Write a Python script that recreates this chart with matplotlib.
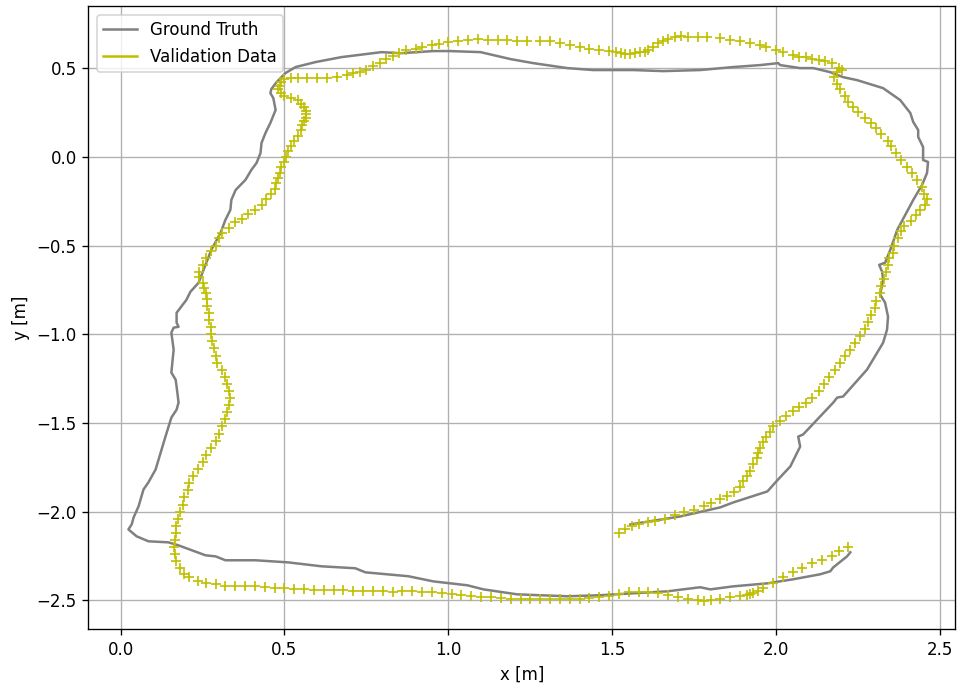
import matplotlib
matplotlib.use('Agg')
import matplotlib.pyplot as plt
from matplotlib.lines import Line2D

# ground truth trajectory [m]
gt_x = [1.555, 1.707, 1.829, 1.869, 1.973, 2.006, 2.043, 2.073, 2.067, 2.082, 2.174, 2.186, 2.204,
        2.277, 2.326, 2.338, 2.341, 2.332, 2.317, 2.326, 2.323, 2.314, 2.332, 2.348, 2.369, 2.418,
        2.445, 2.460, 2.463, 2.448, 2.448, 2.433, 2.433, 2.418, 2.409, 2.378, 2.326, 2.247, 2.204,
        2.165, 2.113, 2.073, 2.012, 2.006, 1.951, 1.869, 1.768, 1.655, 1.564, 1.442, 1.363, 1.259,
        1.189, 1.137, 1.098, 1.006, 0.954, 0.854, 0.796, 0.674, 0.595, 0.534, 0.503, 0.476, 0.460,
        0.457, 0.466, 0.473, 0.457, 0.442, 0.430, 0.427, 0.415, 0.399, 0.381, 0.351, 0.338, 0.335,
        0.320, 0.305, 0.277, 0.238, 0.213, 0.201, 0.171, 0.171, 0.177, 0.162, 0.155, 0.162, 0.155,
        0.168, 0.171, 0.177, 0.171, 0.155, 0.137, 0.107, 0.085, 0.070, 0.055, 0.040, 0.034, 0.024,
        0.049, 0.085, 0.146, 0.177, 0.259, 0.290, 0.320, 0.412, 0.512, 0.613, 0.716, 0.747, 0.878,
        0.954, 1.058, 1.107, 1.210, 1.363, 1.463, 1.564, 1.668, 1.768, 1.799, 1.869, 1.973, 2.052,
        2.134, 2.165, 2.174, 2.216, 2.226]
gt_y = [-2.072, -2.027, -1.976, -1.948, -1.886, -1.818, -1.745, -1.633, -1.577, -1.565, -1.385,
        -1.357, -1.351, -1.199, -1.048, -0.974, -0.901, -0.822, -0.777, -0.693, -0.648, -0.609,
        -0.597, -0.524, -0.412, -0.243, -0.158, -0.091, -0.029, -0.018, 0.055, 0.112, 0.151, 0.196,
        0.247, 0.320, 0.387, 0.432, 0.449, 0.477, 0.500, 0.500, 0.517, 0.528, 0.517, 0.506, 0.489,
        0.483, 0.489, 0.489, 0.500, 0.528, 0.551, 0.573, 0.590, 0.596, 0.596, 0.584, 0.590, 0.562,
        0.534, 0.506, 0.472, 0.421, 0.382, 0.359, 0.331, 0.264, 0.191, 0.134, 0.078, 0.022, -0.034,
        -0.074, -0.130, -0.187, -0.243, -0.299, -0.355, -0.429, -0.524, -0.710, -0.761, -0.806,
        -0.879, -0.935, -0.958, -0.963, -0.991, -1.087, -1.216, -1.256, -1.295, -1.385, -1.425,
        -1.470, -1.577, -1.762, -1.835, -1.875, -1.970, -2.032, -2.072, -2.100, -2.139, -2.167,
        -2.173, -2.190, -2.246, -2.252, -2.274, -2.274, -2.286, -2.308, -2.319, -2.342, -2.364,
        -2.393, -2.415, -2.438, -2.466, -2.477, -2.471, -2.460, -2.449, -2.426, -2.438, -2.421,
        -2.404, -2.381, -2.353, -2.336, -2.314, -2.252, -2.229]

# validation data points [m]
val_x = [1.52, 1.54, 1.56, 1.58, 1.61, 1.63, 1.66, 1.69, 1.72, 1.75, 1.78, 1.80, 1.83,
         1.85, 1.87, 1.89, 1.90, 1.91, 1.92, 1.93, 1.94, 1.945, 1.95, 1.96, 1.97,
         1.98, 1.99, 2.01, 2.03, 2.05, 2.07, 2.09, 2.11, 2.13, 2.145, 2.16, 2.18, 2.195, 2.21,
         2.225, 2.24, 2.255, 2.27, 2.28, 2.29, 2.30, 2.305, 2.315, 2.32, 2.33, 2.335, 2.34, 2.345,
         2.355, 2.36, 2.37, 2.38, 2.39, 2.41, 2.425, 2.44, 2.455, 2.46,
         2.45, 2.445, 2.43, 2.415, 2.40, 2.38, 2.365, 2.35, 2.34, 2.32, 2.305, 2.29, 2.27, 2.25,
         2.235, 2.22, 2.21, 2.195, 2.185, 2.175, 2.185, 2.20,
         2.19, 2.17, 2.15, 2.13, 2.11, 2.09, 2.07, 2.05, 2.02, 2.00, 1.97, 1.95, 1.92, 1.89, 1.86,
         1.83, 1.79, 1.76, 1.73, 1.71, 1.69, 1.67, 1.655, 1.64, 1.625, 1.61, 1.60, 1.585, 1.57,
         1.555, 1.54, 1.525, 1.51, 1.49, 1.46, 1.43, 1.40, 1.37, 1.34, 1.31, 1.28, 1.24, 1.21,
         1.18, 1.15, 1.12, 1.09, 1.06, 1.03, 1.00, 0.97, 0.95, 0.92, 0.90, 0.87, 0.85, 0.83, 0.81,
         0.79, 0.77, 0.75, 0.73, 0.71, 0.69, 0.66, 0.63, 0.60, 0.57, 0.54, 0.52, 0.50, 0.49, 0.485,
         0.48, 0.49, 0.50, 0.52, 0.54, 0.55, 0.56, 0.565, 0.565, 0.565, 0.56, 0.555, 0.55, 0.54,
         0.53, 0.52, 0.51, 0.505, 0.50, 0.49, 0.485, 0.48, 0.475, 0.47, 0.46, 0.445, 0.43, 0.41,
         0.39, 0.37, 0.35, 0.33, 0.31, 0.30, 0.29, 0.275, 0.26, 0.25, 0.24, 0.24, 0.25, 0.255, 0.26,
         0.265, 0.265, 0.27, 0.27, 0.275, 0.275, 0.28, 0.285, 0.29, 0.295, 0.31, 0.32, 0.325, 0.33,
         0.335, 0.33, 0.325, 0.32, 0.31, 0.30, 0.29, 0.275, 0.26, 0.25, 0.235, 0.22, 0.21, 0.205,
         0.195, 0.19, 0.18, 0.175, 0.17, 0.168, 0.165, 0.163, 0.165, 0.17, 0.18, 0.195, 0.21,
         0.235, 0.26, 0.29, 0.32, 0.35, 0.38, 0.41, 0.44, 0.47, 0.50, 0.53, 0.56, 0.59, 0.62, 0.65,
         0.68, 0.71, 0.74, 0.77, 0.80, 0.83, 0.86, 0.89, 0.92, 0.95, 0.98, 1.01, 1.04, 1.07, 1.10,
         1.13, 1.16, 1.19, 1.22, 1.25, 1.28, 1.31, 1.34, 1.37, 1.40, 1.43, 1.46, 1.49, 1.52, 1.55,
         1.58, 1.61, 1.64, 1.67, 1.70, 1.73, 1.76, 1.78, 1.80, 1.83, 1.86, 1.89, 1.91, 1.92, 1.93,
         1.945, 1.96, 1.99, 2.02, 2.05, 2.08, 2.11, 2.14, 2.17, 2.19, 2.22]
val_y = [-2.12, -2.10, -2.08, -2.07, -2.06, -2.05, -2.04, -2.02, -2.00, -1.99, -1.97, -1.95, -1.93,
         -1.91, -1.89, -1.86, -1.83, -1.80, -1.77, -1.73, -1.70, -1.67, -1.64, -1.61, -1.58,
         -1.55, -1.52, -1.49, -1.46, -1.43, -1.41, -1.385, -1.36, -1.32, -1.28, -1.24, -1.20, -1.16,
         -1.12, -1.09, -1.05, -1.01, -0.97, -0.93, -0.89, -0.85, -0.81, -0.77, -0.73, -0.69, -0.65,
         -0.61, -0.57, -0.54, -0.50, -0.46, -0.42, -0.39, -0.36, -0.33, -0.30, -0.27, -0.24,
         -0.21, -0.17, -0.13, -0.09, -0.06, -0.02, 0.02, 0.06, 0.09, 0.13, 0.16, 0.19, 0.22, 0.25,
         0.28, 0.31, 0.34, 0.38, 0.41, 0.45, 0.48, 0.49,
         0.50, 0.53, 0.54, 0.545, 0.55, 0.56, 0.565, 0.575, 0.59, 0.60, 0.62, 0.63, 0.64, 0.65, 0.66,
         0.67, 0.675, 0.675, 0.675, 0.68, 0.675, 0.665, 0.65, 0.64, 0.62, 0.60, 0.59, 0.59, 0.585,
         0.58, 0.58, 0.585, 0.59, 0.595, 0.60, 0.61, 0.62, 0.63, 0.64, 0.65, 0.65, 0.655, 0.655,
         0.66, 0.66, 0.66, 0.665, 0.66, 0.655, 0.645, 0.635, 0.63, 0.62, 0.61, 0.60, 0.585, 0.57,
         0.55, 0.53, 0.51, 0.49, 0.48, 0.47, 0.46, 0.45, 0.445, 0.445, 0.445, 0.445, 0.445, 0.44,
         0.42, 0.40, 0.38, 0.36, 0.34, 0.33, 0.32, 0.30, 0.28, 0.26, 0.24, 0.22, 0.20, 0.18, 0.15,
         0.12, 0.09, 0.06, 0.03, 0.00, -0.03, -0.06, -0.09, -0.12, -0.15, -0.18, -0.21, -0.24,
         -0.27, -0.30, -0.32, -0.35, -0.37, -0.40, -0.43, -0.46, -0.50, -0.53, -0.57, -0.61, -0.65,
         -0.68, -0.71, -0.74, -0.77, -0.80, -0.84, -0.88, -0.92, -0.96, -1.00, -1.04, -1.08, -1.12,
         -1.16, -1.20, -1.24, -1.28, -1.32, -1.36, -1.40, -1.44, -1.48, -1.52, -1.56, -1.60, -1.64,
         -1.68, -1.72, -1.76, -1.80, -1.84, -1.88, -1.92, -1.96, -2.00, -2.04, -2.08, -2.12, -2.16,
         -2.20, -2.24, -2.28, -2.32, -2.35, -2.37, -2.39, -2.40, -2.41, -2.42, -2.42, -2.42, -2.42,
         -2.425, -2.43, -2.43, -2.435, -2.435, -2.44, -2.44, -2.44, -2.44, -2.445, -2.445, -2.445,
         -2.445, -2.45, -2.445, -2.445, -2.45, -2.455, -2.46, -2.465, -2.47, -2.475, -2.48, -2.48,
         -2.485, -2.49, -2.49, -2.495, -2.495, -2.495, -2.495, -2.495, -2.49, -2.485, -2.48,
         -2.475, -2.465, -2.455, -2.45, -2.45, -2.46, -2.47, -2.48, -2.49, -2.50, -2.505, -2.50,
         -2.49, -2.48, -2.475, -2.47, -2.465, -2.46, -2.445, -2.43, -2.40, -2.37, -2.34, -2.32,
         -2.29, -2.27, -2.25, -2.22, -2.20]

fig = plt.figure(figsize=(961 / 120, 687 / 120), dpi=120)
ax = fig.add_axes([0.092, 0.084, 0.902, 0.907])
ax.plot(gt_x, gt_y, color='gray', linewidth=1.5, label='Ground Truth')
ax.plot(val_x, val_y, color='y', linestyle='None', marker='+', markersize=6,
        markeredgewidth=1.0, label='Validation Data')
ax.set_xlim(-0.098, 2.546)
ax.set_ylim(-2.663, 0.849)
ax.grid(True, color='#b0b0b0', linewidth=0.8)
ax.set_xlabel('x [m]')
ax.set_ylabel('y [m]')
handles = [Line2D([], [], color='gray', linewidth=1.5),
           Line2D([], [], color='y', linewidth=1.5)]
ax.legend(handles, ['Ground Truth', 'Validation Data'], loc='upper left')
fig.savefig('out.png', dpi=120)
